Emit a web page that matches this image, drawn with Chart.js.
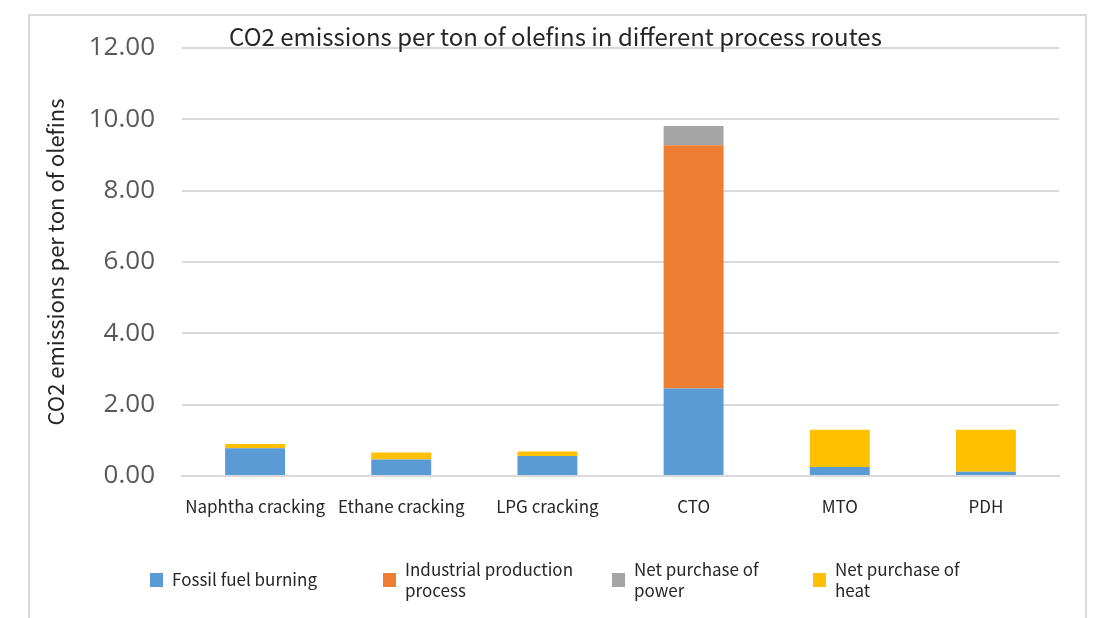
<!DOCTYPE html>
<html>
<head>
<meta charset="utf-8">
<script src="https://cdn.jsdelivr.net/npm/chart.js@4/dist/chart.umd.min.js"></script>
<style>
  html, body { margin: 0; padding: 0; background: #ffffff; }
  #wrap { width: 1094px; height: 618px; position: relative; }
</style>
</head>
<body>
<div id="wrap"><canvas id="c" width="1094" height="618"></canvas></div>
<script>
const categories = ['Naphtha cracking', 'Ethane cracking', 'LPG cracking', 'CTO', 'MTO', 'PDH'];
const fossilFuel = [0.78, 0.46, 0.56, 2.45, 0.25, 0.12];
const industrialProcess = [0, 0, 0, 6.82, 0, 0];
const netPower = [0, 0, 0, 0.54, 0, 0];
const netHeat = [0.12, 0.20, 0.13, 0, 1.05, 1.18];
const seriesLabels = [['Fossil fuel burning'], ['Industrial production', 'process'], ['Net purchase of', 'power'], ['Net purchase of', 'heat']];
const yTicks = [0, 2, 4, 6, 8, 10, 12];

const FONT = '"Noto Sans CJK SC", "Noto Sans", sans-serif';
const colors = ['#5B9BD5', '#ED7D31', '#A5A5A5', '#FFC000'];

const framePlugin = {
  id: 'frame',
  beforeDraw(chart) {
    const ctx = chart.ctx;
    ctx.save();
    ctx.fillStyle = '#ffffff';
    ctx.fillRect(0, 0, chart.width, chart.height);
    ctx.strokeStyle = '#d9d9d9';
    ctx.lineWidth = 2;
    ctx.beginPath();
    ctx.moveTo(29, 620);
    ctx.lineTo(29, 15);
    ctx.lineTo(1086, 15);
    ctx.lineTo(1086, 620);
    ctx.stroke();
    ctx.restore();
  }
};

const legendPlugin = {
  id: 'customLegend',
  afterDraw(chart) {
    const ctx = chart.ctx;
    const xs = [150, 383, 612, 813];
    ctx.save();
    ctx.font = '17px ' + FONT;
    ctx.textBaseline = 'middle';
    ctx.textAlign = 'left';
    chart.data.datasets.forEach((ds, i) => {
      const x = xs[i];
      ctx.fillStyle = ds.backgroundColor;
      ctx.fillRect(x, 573, 13, 14);
      ctx.fillStyle = '#262626';
      const lines = seriesLabels[i];
      const lh = 21;
      const y0 = 580 - (lines.length - 1) * lh / 2;
      lines.forEach((t, k) => ctx.fillText(t, x + 22, y0 + k * lh));
    });
    ctx.restore();
  }
};

const datasets = [fossilFuel, industrialProcess, netPower, netHeat].map((d, i) => ({
  label: seriesLabels[i].join(' '),
  data: d,
  backgroundColor: colors[i],
  borderWidth: 0,
  barPercentage: 0.41,
  categoryPercentage: 1.0
}));

new Chart(document.getElementById('c'), {
  type: 'bar',
  data: { labels: categories, datasets },
  options: {
    responsive: false,
    animation: false,
    layout: { padding: { left: 52, right: 35, top: 0, bottom: 0 } },
    plugins: {
      legend: { display: false },
      tooltip: { enabled: false },
      title: {
        display: true,
        text: 'CO2 emissions per ton of olefins in different process routes',
        color: '#262626',
        font: { family: FONT, size: 24, weight: 'normal', lineHeight: '22px' },
        padding: { top: 26, bottom: 0 }
      }
    },
    scales: {
      x: {
        stacked: true,
        grid: { display: false, drawTicks: false },
        border: { display: true, color: '#d9d9d9', width: 2 },
        ticks: { color: '#262626', font: { family: FONT, size: 17 }, padding: 20, maxRotation: 0, autoSkip: false },
        afterFit(scale) { scale.height = 142; }
      },
      y: {
        stacked: true,
        min: 0,
        max: 12,
        afterBuildTicks(scale) { scale.ticks = yTicks.map(v => ({ value: v })); },
        grid: { color: '#d9d9d9', lineWidth: 2, drawTicks: false },
        border: { display: false },
        ticks: {
          color: '#595959',
          font: { family: '"Open Sans", sans-serif', size: 26 },
          padding: 27,
          callback: v => Number(v).toFixed(2)
        },
        title: {
          display: true,
          text: 'CO2 emissions per ton of olefins',
          color: '#262626',
          font: { family: FONT, size: 22 },
          padding: { top: -10, bottom: 0 }
        },
        afterFit(scale) { scale.width = 130; }
      }
    }
  },
  plugins: [framePlugin, legendPlugin]
});
</script>
</body>
</html>
